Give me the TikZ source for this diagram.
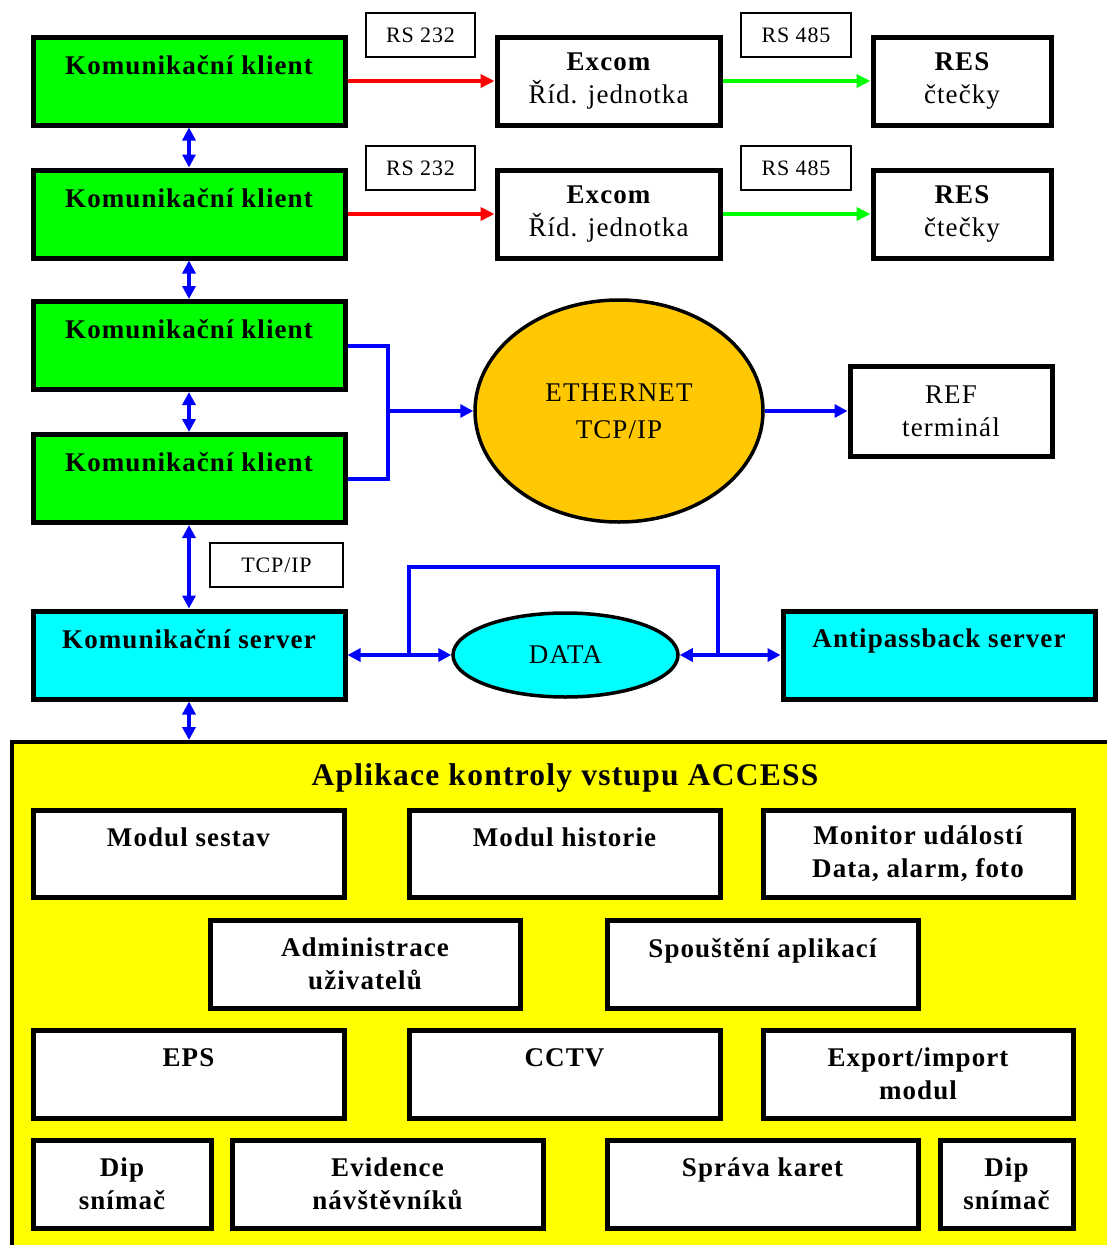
\documentclass[tikz,border=0pt]{standalone}
\usepackage{fontspec}
\setmainfont{Liberation Serif}
\newfontfamily\spaced[LetterSpace=4]{Liberation Serif}
\usetikzlibrary{arrows.meta,shapes.geometric}
\definecolor{kgreen}{RGB}{0,255,0}
\definecolor{kcyan}{RGB}{0,255,255}
\definecolor{kyellow}{RGB}{255,255,0}
\definecolor{korange}{RGB}{255,200,0}
\definecolor{kblue}{RGB}{0,0,255}
\definecolor{kred}{RGB}{255,0,0}
\begin{document}
\begin{tikzpicture}[x=1pt,y=-1pt,
  txt/.style={font=\spaced\fontsize{27}{33}\selectfont, align=center, text=black},
  heavy/.style={txt, draw=black, line width=5pt, inner sep=0pt, minimum width=#1, minimum height=88pt},
  greenbox/.style={heavy=312pt, fill=kgreen},
  cyanbox/.style={heavy=312pt, fill=kcyan},
  whitebox/.style={heavy=#1, fill=white},
  tag/.style={font=\spaced\fontsize{22}{24}\selectfont, draw=black, line width=1.5pt, fill=white,
              inner sep=0pt, minimum height=44pt},
  oval/.style={txt, ellipse, draw=black, line width=3.5pt, inner sep=0pt},
  bus/.style={draw=kblue, line width=4pt},
  busarrow/.style={bus, -{Triangle[length=13pt,width=13pt]}},
  busboth/.style={bus, {Triangle[length=13pt,width=13pt]}-{Triangle[length=13pt,width=13pt]}},
  serial/.style={line width=4pt, -{Triangle[length=14pt,width=13pt]}},
]
\useasboundingbox (0,0) rectangle (1106,1245);
\fill[white] (0,0) rectangle (1106,1245);

% communication clients
\node[greenbox] (k1) at (189,81)    {\bfseries Komunikační klient\\ ~};
\node[greenbox] (k2) at (189,214)   {\bfseries Komunikační klient\\ ~};
\node[greenbox] (k3) at (189,345.5) {\bfseries Komunikační klient\\ ~};
\node[greenbox] (k4) at (189,478.5) {\bfseries Komunikační klient\\ ~};

% Excom units and readers
\node[whitebox=223pt] (ex1) at (608.5,81)  {\bfseries Excom\\ Říd. jednotka};
\node[whitebox=223pt] (ex2) at (608.5,214) {\bfseries Excom\\ Říd. jednotka};
\node[whitebox=178pt] (res1) at (962,81)  {\bfseries RES\\ čtečky};
\node[whitebox=178pt] (res2) at (962,214) {\bfseries RES\\ čtečky};

% bus tags
\node[tag, minimum width=109pt] (rs1) at (420.5,35)  {RS 232};
\node[tag, minimum width=109pt] (rs2) at (420.5,168) {RS 232};
\node[tag, minimum width=110pt] (rs3) at (796,35)    {RS 485};
\node[tag, minimum width=110pt] (rs4) at (796,168)   {RS 485};
\node[tag, minimum width=133pt] (tcp) at (276.5,565) {TCP/IP};

% serial links
\draw[serial, kred] (k1.east) -- (ex1.west);
\draw[serial, kred] (k2.east) -- (ex2.west);
\draw[serial, kgreen] (ex1.east) -- (res1.west);
\draw[serial, kgreen] (ex2.east) -- (res2.west);

% ethernet
\node[oval, fill=korange, minimum width=288pt, minimum height=222pt] (eth) at (619,411)
  {ETHERNET\\[4pt]TCP/IP};
\node[whitebox=202pt, minimum height=90pt] (ref) at (951,411) {REF\\ terminál};

\coordinate (hub) at (388,411);
\draw[bus] (k3.east) -| (hub) |- (k4.east);
\draw[busarrow] (hub) -- (eth.west);
\draw[busarrow] (eth.east) -- (ref.west);

% links between clients
\draw[busboth] (k1.south) -- (k2.north);
\draw[busboth] (k2.south) -- (k3.north);
\draw[busboth] (k3.south) -- (k4.north);

% servers and database
\node[cyanbox] (srv) at (189,655) {\bfseries Komunikační server\\ ~};
\node[oval, fill=kcyan, minimum width=225pt, minimum height=84pt] (data) at (565.5,655) {DATA};
\node[cyanbox] (ant) at (939,655) {\bfseries Antipassback server\\ ~};

\draw[busboth] (k4.south) -- (srv.north);

\coordinate (j1) at (409,655);
\coordinate (j2) at (718,655);
\draw[bus] (j1) -- ++(0,-88) -| (j2);
\draw[busboth] (srv.east) -- (data.west);
\draw[busarrow] (j2) -- (data.east);
\draw[busarrow] (j2) -- (ant.west);

% access control application
\node[draw=black, fill=kyellow, line width=4pt, minimum width=1108pt, minimum height=520pt,
      inner sep=0pt] (app) at (566,1002) {};
\node[font=\spaced\bfseries\fontsize{31.5}{34}\selectfont] (title) at (565,778)
  {Aplikace kontroly vstupu ACCESS};

\draw[busboth] (srv.south) -- (srv.south |- app.north);

\node[whitebox=311pt, minimum height=87pt] (ms)  at (188.5,853.5) {\bfseries Modul sestav\\ ~};
\node[whitebox=311pt, minimum height=87pt] (mh)  at (564.5,853.5) {\bfseries Modul historie\\ ~};
\node[whitebox=310pt, minimum height=87pt] (mon) at (918,853.5)   {\bfseries Monitor událostí\\ \bfseries Data, alarm, foto};

\node[whitebox=310pt] (adm) at (365,964)   {\bfseries Administrace\\ \bfseries uživatelů};
\node[whitebox=311pt] (spo) at (762.5,964) {\bfseries Spouštění aplikací\\ ~};

\node[whitebox=311pt] (eps)  at (188.5,1074) {\bfseries EPS\\ ~};
\node[whitebox=311pt] (cctv) at (564.5,1074) {\bfseries CCTV\\ ~};
\node[whitebox=310pt] (exp)  at (918,1074)   {\bfseries Export/import\\ \bfseries modul};

\node[whitebox=178pt] (dip1) at (122,1184)    {\bfseries Dip\\ \bfseries snímač};
\node[whitebox=311pt] (evi)  at (387.5,1184)  {\bfseries Evidence\\ \bfseries návštěvníků};
\node[whitebox=311pt] (spr)  at (762.5,1184)  {\bfseries Správa karet\\ ~};
\node[whitebox=133pt] (dip2) at (1006.5,1184) {\bfseries Dip\\ \bfseries snímač};
\end{tikzpicture}
\end{document}
